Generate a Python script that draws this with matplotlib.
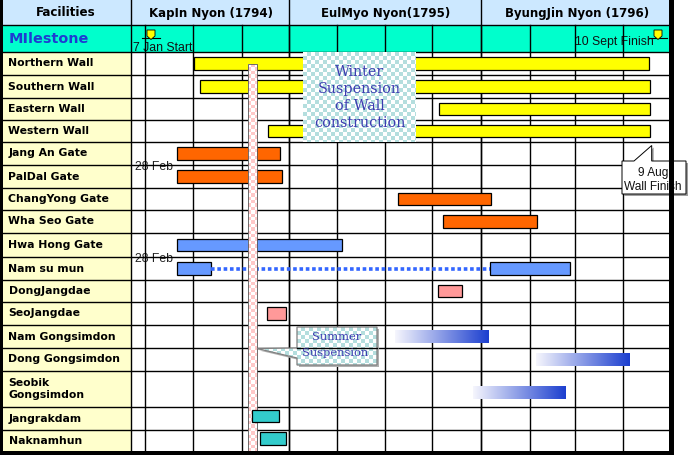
import numpy as np
import matplotlib
matplotlib.use("Agg")
import matplotlib.pyplot as plt
from matplotlib.patches import Rectangle, Polygon
from matplotlib.colors import ListedColormap, LinearSegmentedColormap

# ---------------------------------------------------------------------------
# DATA  (timeline measured in sheet units, i.e. px across the original chart)
# ---------------------------------------------------------------------------
YEARS = ["KapIn Nyon (1794)", "EulMyo Nyon(1795)", "ByungJin Nyon (1796)"]
YEAR_EDGES = [131, 289, 481, 671]
PERIOD_EDGES = [145, 193, 242, 289, 337, 385, 432, 481, 530, 575, 623]

FACILITIES = ["Northern Wall", "Southern Wall", "Eastern Wall", "Western Wall",
              "Jang An Gate", "PalDal Gate", "ChangYong Gate", "Wha Seo Gate",
              "Hwa Hong Gate", "Nam su mun", "DongJangdae", "SeoJangdae",
              "Nam Gongsimdon", "Dong Gongsimdon", "Seobik\nGongsimdon",
              "Jangrakdam", "Naknamhun"]

TASK_ROW   = [0, 1, 2, 3, 4, 5, 6, 7, 8, 9, 9, 10, 11, 12, 13, 14, 15, 16]
TASK_START = [194, 200, 439, 268, 177, 177, 398, 443, 177, 177, 490, 438, 267, 395, 536, 473, 252, 260]
TASK_END   = [649, 650, 650, 650, 280, 282, 491, 537, 342, 211, 570, 462, 286, 489, 630, 566, 279, 286]
TASK_KIND  = ["wall", "wall", "wall", "wall", "gate", "gate", "gate", "gate",
              "water", "water", "water", "post", "post",
              "tower", "tower", "tower", "pavil", "pavil"]

DOTTED_ROW, DOTTED_FROM, DOTTED_TO = 9, 211, 490      # Nam su mun pause

MILESTONE_TEXT = ["7 Jan Start", "10 Sept Finish"]
MILESTONE_AT = [151, 658]

WINTER_FROM, WINTER_TO, WINTER_ROWS = 303, 416, 4    # wall works halted
SUMMER_FROM, SUMMER_TO = 248, 257                    # summer suspension

# ---------------------------------------------------------------------------
# layout / style
# ---------------------------------------------------------------------------
ROW_EDGES = [52, 75, 98, 120, 142, 165, 188, 210, 233, 257, 280, 302, 325,
             348, 371, 407, 430, 452]
KIND_COLOR = {"wall": "#FFFF00", "gate": "#FF6600", "water": "#6699FF",
              "post": "#FF9999", "pavil": "#33CCCC"}
BAR_H = 12.5
SANS = "DejaVu Sans"
ARIAL = "Liberation Sans"
SERIF = "DejaVu Serif"
TXT_BLUE = "#3C3CB0"


def checker(ax, x0, x1, y0, y1, color, z, clip=None, cell=4.0):
    nx = int(np.ceil((x1 - x0) / cell))
    ny = int(np.ceil((y1 - y0) / cell))
    ii, jj = np.indices((ny, nx))
    board = (ii + jj) % 2
    im = ax.imshow(board, extent=(x0, x0 + nx * cell, y0 + ny * cell, y0),
                   cmap=ListedColormap(["white", color]), interpolation="nearest",
                   aspect="auto", zorder=z)
    if clip is not None:
        im.set_clip_path(clip)
    else:
        im.set_clip_path(Rectangle((x0, y0), x1 - x0, y1 - y0,
                                   transform=ax.transData))
    return im


fig = plt.figure(figsize=(6.96, 4.55), dpi=100)
ax = fig.add_axes([0, 0, 1, 1])
right = YEAR_EDGES[-1]
top, bottom = ROW_EDGES[0], ROW_EDGES[-1]

# backgrounds
ax.add_patch(Rectangle((0, 0), right, 25, fc="#CCE8FF", ec="none", zorder=1))
ax.add_patch(Rectangle((0, 25), right, top - 25, fc="#00FFCC", ec="none", zorder=1))
ax.add_patch(Rectangle((0, top), YEAR_EDGES[0], bottom - top, fc="#FFFFCC",
                       ec="none", zorder=1))

# grid
LW = 1.0
for y in [25] + ROW_EDGES:
    ax.plot([0, right], [y, y], color="black", lw=LW, zorder=2)
for x in PERIOD_EDGES:
    ax.plot([x, x], [25, bottom], color="black", lw=LW, zorder=2)
for x in YEAR_EDGES[:-1]:
    ax.plot([x, x], [0, bottom], color="black", lw=LW, zorder=2)

# header texts
ax.text(YEAR_EDGES[0] / 2, 13, "Facilities", ha="center", va="center",
        fontsize=8.6, fontweight="bold", family=SANS, zorder=3)
for name, a, b in zip(YEARS, YEAR_EDGES[:-1], YEAR_EDGES[1:]):
    ax.text((a + b) / 2 + 1, 13, name, ha="center", va="center",
            fontsize=8.5, fontweight="bold", family=SANS, zorder=3)
ax.text(9, 39, "MIlestone", ha="left", va="center", fontsize=10.4,
        fontweight="bold", family=SANS, color="#1E3CD2", zorder=3)

# row labels
for i, lab in enumerate(FACILITIES):
    yc = (ROW_EDGES[i] + ROW_EDGES[i + 1]) / 2
    ax.text(8.5, yc, lab, ha="left", va="center", fontsize=7.8,
            fontweight="bold", family=SANS, linespacing=1.15, zorder=3)

# milestones
for txt, xm in zip(MILESTONE_TEXT, MILESTONE_AT):
    ax.add_patch(Polygon([(xm - 4, 30), (xm + 4, 30), (xm + 4, 36), (xm, 39.5),
                          (xm - 4, 36)], closed=True, fc="#FFFF00", ec="black",
                         lw=0.6, zorder=4))
    ax.plot([xm - 9, xm + 9], [37.5, 37.5], color="black", lw=0.8, zorder=3)
ax.text(133, 48, MILESTONE_TEXT[0], ha="left", va="center", fontsize=8.8,
        family=ARIAL, color="#111111", zorder=1.5)
ax.text(575, 41.5, MILESTONE_TEXT[1], ha="left", va="center", fontsize=8.8,
        family=ARIAL, color="#111111", zorder=1.5)

# "28 Feb" start notes
for r in (4, 8):
    ax.text(135, ROW_EDGES[r + 1] + 2.5, "28 Feb", ha="left", va="center",
            fontsize=8.8, family=ARIAL, color="#222222", zorder=1.5)

# task bars
gmap = LinearSegmentedColormap.from_list("gong", ["#F6F6FD", "#1C3FCF"])
grad = np.linspace(0, 1, 256).reshape(1, -1)
for r, s, e, k in zip(TASK_ROW, TASK_START, TASK_END, TASK_KIND):
    yc = (ROW_EDGES[r] + ROW_EDGES[r + 1]) / 2
    if r == 14:
        yc += 4
    elif r >= 15:
        yc -= 2.5
    if k == "tower":
        ax.imshow(grad, extent=(s, e, yc + BAR_H / 2, yc - BAR_H / 2), cmap=gmap,
                  aspect="auto", interpolation="bilinear", zorder=3)
    else:
        z = 5 if k == "pavil" else 3
        ax.add_patch(Rectangle((s, yc - BAR_H / 2), e - s, BAR_H,
                               fc=KIND_COLOR[k], ec="black", lw=0.9, zorder=z))

yd = (ROW_EDGES[DOTTED_ROW] + ROW_EDGES[DOTTED_ROW + 1]) / 2
ax.plot([DOTTED_FROM, DOTTED_TO], [yd, yd], color="#3366FF", lw=2.6,
        linestyle=(0, (1.0, 0.75)), dash_capstyle="butt", zorder=3)

# summer suspension column
col_top = 64
checker(ax, SUMMER_FROM, SUMMER_TO, col_top, bottom, "#FFC8C8", 4, cell=3.4)
ax.add_patch(Rectangle((SUMMER_FROM, col_top), SUMMER_TO - SUMMER_FROM,
                       bottom - col_top, fc="none", ec="#555555", lw=0.6, zorder=4.5))

# winter suspension block
wy0, wy1 = ROW_EDGES[0], ROW_EDGES[WINTER_ROWS]
checker(ax, WINTER_FROM, WINTER_TO, wy0, wy1, "#B4DEDE", 6)
wx = (WINTER_FROM + WINTER_TO) / 2
for line, y in zip(["Winter", "Suspension", "of Wall", "construction"],
                   [72, 89, 106, 123]):
    ax.text(wx, y, line, ha="center", va="center", fontsize=10.4, family=SERIF,
            color=TXT_BLUE, zorder=7)

# summer suspension callout
sx0, sx1, sy0, sy1 = 297, 377, 327, 365
tip = (SUMMER_TO, 348.5)
spoly = [(sx0, sy0), (sx1, sy0), (sx1, sy1), (sx0, sy1), (sx0, 358), tip, (sx0, 348)]
ax.add_patch(Polygon([(x + 2, y + 2) for x, y in spoly], closed=True,
                     fc="#B0B0B0", ec="none", zorder=5.5))
clip = Polygon(spoly, closed=True, fc="white", ec="none", zorder=5.8)
ax.add_patch(clip)
checker(ax, tip[0], sx1, sy0, sy1, "#B4DEDE", 6, clip=clip)
ax.add_patch(Polygon(spoly, closed=True, fc="none", ec="#7F7F7F", lw=0.9, zorder=6.2))
ax.plot([sx0, sx1], [348, 348], color="black", lw=LW, zorder=6.3)
ax.text(337, 337, "Summer", ha="center", va="center", fontsize=8.2,
        family=SERIF, color=TXT_BLUE, zorder=7)
ax.text(335, 352.5, "Suspension", ha="center", va="center", fontsize=8.2,
        family=SERIF, color=TXT_BLUE, zorder=7)

# wall finish callout
cpoly = [(622, 161), (634, 161), (651.7, 145.5), (651.7, 161), (686, 161),
         (686, 194), (622, 194)]
ax.add_patch(Polygon([(x + 2, y + 2) for x, y in cpoly], closed=True,
                     fc="#A0A0A0", ec="none", zorder=5.5))
ax.add_patch(Polygon(cpoly, closed=True, fc="white", ec="black", lw=0.7, zorder=6))
ax.text(653, 173, "9 Aug", ha="center", va="center", fontsize=8.6,
        family=ARIAL, color="#111111", zorder=7)
ax.text(653, 187, "Wall Finish", ha="center", va="center", fontsize=8.6,
        family=ARIAL, color="#111111", zorder=7)

# outer frame
ax.add_patch(Rectangle((0, 0), 3, 455, fc="black", ec="none", zorder=8))
ax.add_patch(Rectangle((669, 0), 4.5, 455, fc="black", ec="none", zorder=8))
ax.add_patch(Rectangle((0, 451), 673.5, 4, fc="black", ec="none", zorder=8))

ax.set_xlim(0, 696)
ax.set_ylim(455, 0)
ax.axis("off")
fig.savefig("out.png", dpi=100)
